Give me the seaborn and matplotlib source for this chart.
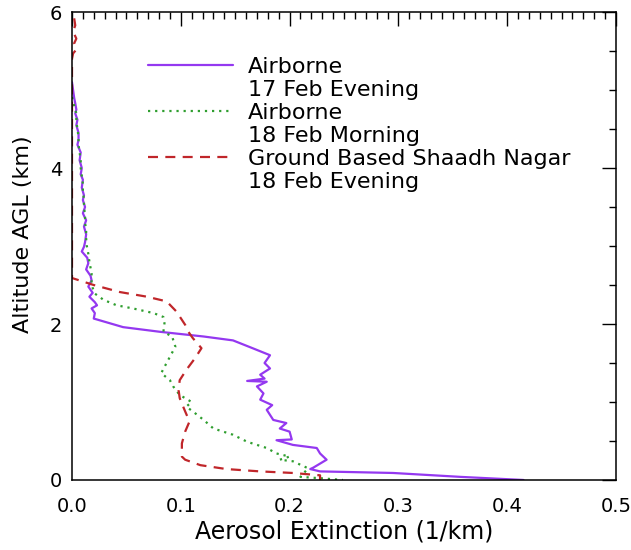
import matplotlib
matplotlib.use("Agg")
import matplotlib.pyplot as plt
import seaborn as sns
from matplotlib.lines import Line2D
from matplotlib.ticker import MultipleLocator, FormatStrFormatter

sns.set_style("white", {"text.color": "black", "axes.labelcolor": "black",
                        "xtick.color": "black", "ytick.color": "black",
                        "axes.edgecolor": "black"})
plt.rcParams['font.family'] = ['DejaVu Sans']

# Airborne, 17 Feb evening (altitude km, extinction 1/km)
alt_17 = [5.10, 5.00, 4.90, 4.83, 4.75, 4.70, 4.62, 4.55, 4.45, 4.36, 4.30, 4.20,
          4.10, 4.00, 3.92, 3.85, 3.75, 3.65, 3.59, 3.50, 3.42, 3.33, 3.25, 3.15,
          3.05, 2.99, 2.93, 2.85, 2.78, 2.70, 2.62, 2.56, 2.48, 2.40, 2.35, 2.28,
          2.24, 2.20, 2.14, 2.07, 1.96, 1.90, 1.84, 1.79, 1.69, 1.60, 1.50, 1.43,
          1.35, 1.30, 1.27, 1.26, 1.20, 1.11, 1.03, 0.96, 0.90, 0.77, 0.73, 0.66,
          0.62, 0.52, 0.51, 0.45, 0.41, 0.34, 0.26, 0.16, 0.14, 0.11, 0.09, 0.04,
          0.00]
ext_17 = [0.000, 0.001, 0.002, 0.003, 0.004, 0.003, 0.005, 0.004, 0.006, 0.006, 0.005, 0.008,
          0.007, 0.009, 0.008, 0.010, 0.009, 0.011, 0.010, 0.012, 0.010, 0.013, 0.011, 0.013,
          0.012, 0.011, 0.009, 0.014, 0.015, 0.013, 0.017, 0.018, 0.015, 0.019, 0.016, 0.021,
          0.023, 0.018, 0.021, 0.020, 0.047, 0.081, 0.121, 0.148, 0.166, 0.182, 0.177, 0.182,
          0.173, 0.177, 0.161, 0.179, 0.170, 0.176, 0.173, 0.184, 0.179, 0.185, 0.197, 0.191,
          0.200, 0.202, 0.188, 0.203, 0.225, 0.228, 0.234, 0.222, 0.219, 0.228, 0.295, 0.357,
          0.415]

# Airborne, 18 Feb morning
alt_18m = [4.91, 4.80, 4.70, 4.60, 4.50, 4.40, 4.30, 4.20, 4.10, 4.00, 3.90, 3.80,
           3.70, 3.60, 3.50, 3.40, 3.30, 3.20, 3.10, 3.01, 2.90, 2.80, 2.65, 2.50,
           2.39, 2.31, 2.24, 2.20, 2.14, 2.09, 2.01, 1.90, 1.84, 1.71, 1.58, 1.45,
           1.37, 1.28, 1.20, 1.09, 1.00, 0.94, 0.88, 0.77, 0.66, 0.58, 0.49, 0.41,
           0.34, 0.30, 0.26, 0.24, 0.15, 0.04, 0.02, 0.00]
ext_18m = [0.000, 0.002, 0.004, 0.004, 0.005, 0.006, 0.006, 0.007, 0.008, 0.008, 0.009, 0.010,
           0.010, 0.011, 0.011, 0.012, 0.012, 0.013, 0.013, 0.0135, 0.015, 0.016, 0.018, 0.018,
           0.021, 0.029, 0.041, 0.056, 0.075, 0.084, 0.085, 0.084, 0.092, 0.095, 0.090, 0.085,
           0.082, 0.090, 0.093, 0.099, 0.110, 0.105, 0.111, 0.121, 0.130, 0.148, 0.161, 0.179,
           0.188, 0.200, 0.191, 0.203, 0.217, 0.210, 0.231, 0.249]

# Ground based lidar, Shaadh Nagar, 18 Feb evening
alt_gb = [5.92, 5.83, 5.75, 5.66, 5.60, 5.52, 5.47, 5.40, 2.59, 2.50, 2.41, 2.35,
          2.29, 2.16, 1.99, 1.90, 1.82, 1.69, 1.56, 1.41, 1.28, 1.15, 1.05, 0.98,
          0.88, 0.75, 0.62, 0.47, 0.30, 0.26, 0.19, 0.14, 0.11, 0.09, 0.06, 0.00]
ext_gb = [0.002, 0.003, 0.001, 0.004, 0.002, 0.004, 0.001, 0.000, 0.000, 0.020, 0.044, 0.069,
          0.087, 0.096, 0.104, 0.107, 0.111, 0.119, 0.113, 0.105, 0.099, 0.098, 0.099, 0.101,
          0.104, 0.108, 0.104, 0.101, 0.101, 0.104, 0.118, 0.142, 0.173, 0.203, 0.228, 0.228]

names = ["Airborne", "Airborne", "Ground Based Shaadh Nagar"]
dates = ["17 Feb Evening", "18 Feb Morning", "18 Feb Evening"]
colors = ["#9438f0", "#2f9e2f", "#c0262a"]
styles = ["-", (0, (1, 2.2)), (0, (4.5, 3.3))]

fig = plt.figure(figsize=(6.31, 5.5), dpi=100)
ax = fig.add_axes([0.1141, 0.1273, 0.8621, 0.8507])

series = [(ext_17, alt_17), (ext_18m, alt_18m), (ext_gb, alt_gb)]
for (x, y), c, ls in zip(series, colors, styles):
    sns.lineplot(x=x, y=y, sort=False, estimator=None, ax=ax,
                 color=c, lw=1.6, linestyle=ls)

ax.set_xlim(0, 0.5)
ax.set_ylim(0, 6)
ax.xaxis.set_major_locator(MultipleLocator(0.1))
ax.xaxis.set_minor_locator(MultipleLocator(0.01))
ax.yaxis.set_major_locator(MultipleLocator(2))
ax.yaxis.set_minor_locator(MultipleLocator(0.5))
ax.xaxis.set_major_formatter(FormatStrFormatter('%.1f'))
ax.tick_params(which='both', direction='in', top=True, right=True,
               labelsize=14, width=1)
ax.tick_params(which='major', length=10)
ax.tick_params(which='minor', length=5)
ax.tick_params(axis='x', which='major', pad=12)
ax.tick_params(axis='y', which='major', pad=7)
for s in ax.spines.values():
    s.set_linewidth(1.1)

ax.set_xlabel("Aerosol Extinction (1/km)", fontsize=17, labelpad=3)
ax.set_ylabel("Altitude AGL (km)", fontsize=16)
ax.yaxis.set_label_coords(-0.072, 0.526)

# legend: sample line sits on the first line of each two-line entry
handles, labels = [], []
for n, d, c, ls in zip(names, dates, colors, styles):
    handles += [Line2D([], [], color=c, lw=1.6, linestyle=ls),
                Line2D([], [], color="none")]
    labels += [n, d]
ax.legend(handles, labels, loc='upper left', bbox_to_anchor=(0.14, 0.905),
          frameon=False, fontsize=16, handlelength=3.8, handletextpad=0.7,
          labelspacing=0.14, borderpad=0, borderaxespad=0)

fig.savefig("out.png", dpi=100)
